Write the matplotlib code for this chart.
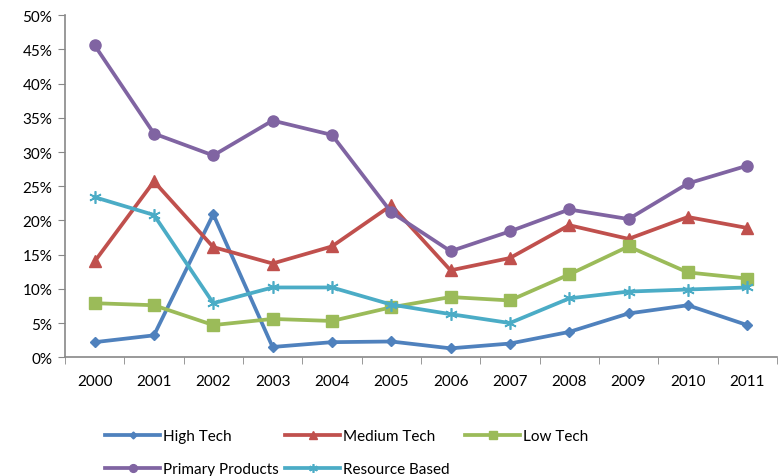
import matplotlib.pyplot as plt
import numpy as np

plt.rcParams['font.family'] = ['Lato', 'DejaVu Sans']

years = ['2000', '2001', '2002', '2003', '2004', '2005',
         '2006', '2007', '2008', '2009', '2010', '2011']
high_tech = [2.2, 3.2, 20.9, 1.5, 2.2, 2.3, 1.3, 2.0, 3.7, 6.4, 7.6, 4.7]
medium_tech = [14.0, 25.7, 16.1, 13.7, 16.2, 22.2, 12.7, 14.5, 19.3, 17.3, 20.5, 18.9]
low_tech = [7.9, 7.6, 4.7, 5.6, 5.3, 7.3, 8.8, 8.3, 12.1, 16.2, 12.4, 11.5]
primary = [45.6, 32.7, 29.5, 34.6, 32.5, 21.2, 15.5, 18.4, 21.6, 20.2, 25.4, 28.0]
resource = [23.4, 20.8, 7.9, 10.2, 10.2, 7.7, 6.3, 5.0, 8.6, 9.6, 9.9, 10.2]

fig = plt.figure(figsize=(7.78, 4.77), dpi=100)
ax = fig.add_axes([0.0835, 0.249, 0.915, 0.717])

x = np.arange(len(years))
lw = 2.7
l1, = ax.plot(x, high_tech, color='#4F81BD', lw=lw, marker='D', ms=5, label='High Tech')
l2, = ax.plot(x, medium_tech, color='#C0504D', lw=lw, marker='^', ms=8, label='Medium Tech')
l3, = ax.plot(x, low_tech, color='#9BBB59', lw=lw, marker='s', ms=8, label='Low Tech')
l4, = ax.plot(x, primary, color='#8064A2', lw=lw, marker='o', ms=8, label='Primary Products')
l5, = ax.plot(x, resource, color='#4BACC6', lw=lw, marker=(6, 2, 0), ms=9, mew=1.2,
              label='Resource Based')

ax.set_xlim(-0.5, len(years) - 0.5)
ax.set_ylim(0, 50)
ax.set_yticks(np.arange(0, 51, 5))
ax.set_yticklabels(['%d%%' % v for v in range(0, 51, 5)])
ax.set_xticks(x)
ax.set_xticklabels(years)
ax.set_xticks(np.arange(-0.5, len(years), 1), minor=True)
ax.tick_params(axis='x', which='major', length=0, pad=12, labelsize=11)
ax.tick_params(axis='x', which='minor', length=5, color='#888888', direction='out')
ax.tick_params(axis='y', length=5, color='#888888', labelsize=11, pad=4)

for s in ['top', 'right']:
    ax.spines[s].set_visible(False)
for s in ['left', 'bottom']:
    ax.spines[s].set_color('#888888')
    ax.spines[s].set_linewidth(1.2)

# one legend per column, placed like the Excel legend
columns = [([l1, l4], 105), ([l2, l5], 285), ([l3], 465)]
for hs, px in columns:
    fig.legend(hs, [h.get_label() for h in hs], frameon=False,
               loc='upper left', bbox_to_anchor=(px / 778, 1 - 430 / 477),
               fontsize=11, handlelength=3.6, handletextpad=0.2,
               labelspacing=1.27, borderpad=0, borderaxespad=0, markerscale=0.7)

fig.savefig('out.png', dpi=100)
